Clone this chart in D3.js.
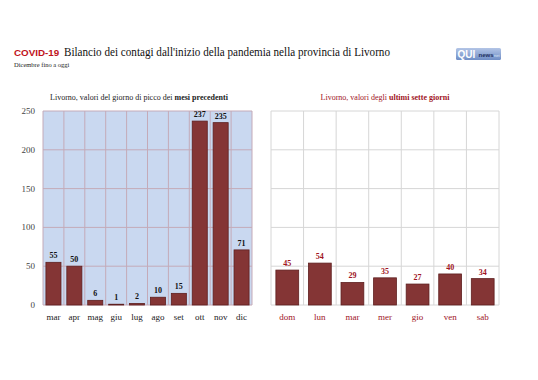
<!DOCTYPE html>
<html>
<head>
<meta charset="utf-8">
<script src="https://cdn.jsdelivr.net/npm/d3@7"></script>
<style>
  body { margin: 0; background: #fff; }
  svg { display: block; }
</style>
</head>
<body>
<div id="chart"></div>
<script>
// data
const mesi = ["mar", "apr", "mag", "giu", "lug", "ago", "set", "ott", "nov", "dic"];
const piccoMesi = [55, 50, 6, 1, 2, 10, 15, 237, 235, 71];
const giorni = ["dom", "lun", "mar", "mer", "gio", "ven", "sab"];
const ultimiGiorni = [45, 54, 29, 35, 27, 40, 34];
const yTicks = [0, 50, 100, 150, 200, 250];

const width = 538, height = 380;
const serif = "'Liberation Serif', 'Times New Roman', 'DejaVu Serif', serif";
const sans = "'Liberation Sans', Arial, sans-serif";
const barFill = "#843535", barStroke = "#5e1f1f", darkRed = "#a0141e";

const svg = d3.select("#chart").append("svg")
  .attr("width", width)
  .attr("height", height);

// titles
svg.append("text")
  .attr("x", 14).attr("y", 56)
  .style("font-family", sans)
  .style("font-weight", "bold")
  .style("font-size", "9.8px")
  .attr("fill", "#c0141c")
  .text("COVID-19");

svg.append("text")
  .attr("x", 64).attr("y", 56)
  .style("font-family", serif)
  .style("font-size", "11.5px")
  .attr("fill", "#111")
  .attr("textLength", 326)
  .attr("lengthAdjust", "spacingAndGlyphs")
  .text("Bilancio dei contagi dall'inizio della pandemia nella provincia di Livorno");

svg.append("text")
  .attr("x", 14).attr("y", 67)
  .style("font-family", serif)
  .style("font-size", "6.5px")
  .attr("fill", "#222")
  .text("Dicembre fino a oggi");

// logo
const logo = svg.append("g").attr("transform", "translate(456,48)");
const grad = svg.append("defs").append("linearGradient")
  .attr("id", "lg").attr("x1", 0).attr("y1", 0).attr("x2", 0).attr("y2", 1);
grad.append("stop").attr("offset", 0).attr("stop-color", "#b3c5e6");
grad.append("stop").attr("offset", 1).attr("stop-color", "#6f8ec6");
logo.append("rect").attr("width", 45).attr("height", 12).attr("rx", 1.5).attr("fill", "url(#lg)");
logo.append("text").attr("x", 1.5).attr("y", 10)
  .style("font-family", sans)
  .style("font-weight", "bold").style("font-size", "10px").attr("fill", "#fff")
  .text("QUI");
logo.append("text").attr("x", 22.5).attr("y", 9)
  .style("font-family", sans)
  .style("font-weight", "bold").style("font-size", "6px").attr("fill", "#1d2f5e")
  .text("news");
logo.append("text").attr("x", 38).attr("y", 9)
  .style("font-family", sans)
  .style("font-size", "4px").attr("fill", "#dde6f5")
  .text("net");

// shared y scale
const plotTop = 111, plotBottom = 305;
const y = d3.scaleLinear().domain([0, 250]).range([plotBottom, plotTop]);

function panel(opts) {
  const x = d3.scaleBand().domain(opts.cats).range([opts.x0, opts.x1])
    .paddingInner(opts.pad).paddingOuter(opts.pad / 2);
  const g = svg.append("g");

  // background
  g.append("rect")
    .attr("x", opts.x0).attr("y", plotTop)
    .attr("width", opts.x1 - opts.x0).attr("height", plotBottom - plotTop)
    .attr("fill", opts.bg);

  // horizontal grid
  g.selectAll(".hg").data(yTicks).enter().append("line")
    .attr("x1", opts.x0).attr("x2", opts.x1)
    .attr("y1", d => y(d)).attr("y2", d => y(d))
    .attr("stroke", opts.grid).attr("stroke-width", 1);

  // vertical grid at band boundaries
  const step = x.step();
  const bounds = d3.range(opts.cats.length + 1).map(i => opts.x0 + i * step);
  g.selectAll(".vg").data(bounds).enter().append("line")
    .attr("x1", d => d).attr("x2", d => d)
    .attr("y1", plotTop).attr("y2", plotBottom)
    .attr("stroke", opts.grid).attr("stroke-width", 1);

  // bars
  g.selectAll(".bar").data(opts.vals).enter().append("rect")
    .attr("x", (d, i) => x(opts.cats[i]))
    .attr("y", d => y(d))
    .attr("width", x.bandwidth())
    .attr("height", d => plotBottom - y(d))
    .attr("fill", barFill)
    .attr("stroke", barStroke)
    .attr("stroke-width", 0.8);

  // value labels
  g.selectAll(".val").data(opts.vals).enter().append("text")
    .attr("x", (d, i) => x(opts.cats[i]) + x.bandwidth() / 2)
    .attr("y", d => y(d) - 4)
    .attr("text-anchor", "middle")
    .style("font-family", serif)
    .style("font-weight", "bold")
    .style("font-size", "8px")
    .attr("fill", opts.valColor)
    .text(d => d);

  // category labels
  g.selectAll(".cat").data(opts.cats).enter().append("text")
    .attr("x", d => x(d) + x.bandwidth() / 2)
    .attr("y", 320)
    .attr("text-anchor", "middle")
    .style("font-family", serif)
    .style("font-size", "9px")
    .attr("fill", opts.catColor)
    .text(d => d);

  // panel title
  const t = svg.append("text")
    .attr("x", (opts.x0 + opts.x1) / 2 + opts.titleShift)
    .attr("y", 100)
    .attr("text-anchor", "middle")
    .style("font-family", serif)
    .style("font-size", "8px")
    .attr("fill", opts.titleColor);
  t.append("tspan").text(opts.title[0]);
  t.append("tspan").style("font-weight", "bold").text(opts.title[1]);
  return x;
}

panel({
  cats: mesi, vals: piccoMesi, x0: 43, x1: 252, pad: 0.28,
  bg: "#c9d8f0", grid: "#c4aab8",
  valColor: "#111", catColor: "#222", titleColor: "#222",
  title: ["Livorno, valori del giorno di picco dei ", "mesi precedenti"], titleShift: -8.5
});

panel({
  cats: giorni, vals: ultimiGiorni, x0: 271, x1: 499, pad: 0.3,
  bg: "#fff", grid: "#d6d6d6",
  valColor: darkRed, catColor: darkRed, titleColor: darkRed,
  title: ["Livorno, valori degli ", "ultimi sette giorni"], titleShift: 0
});

// left y axis labels
svg.selectAll(".ytick").data(yTicks).enter().append("text")
  .attr("x", 35)
  .attr("y", d => y(d) + 3)
  .attr("text-anchor", "end")
  .style("font-family", serif)
  .style("font-size", "9px")
  .attr("fill", "#444")
  .text(d => d);
</script>
</body>
</html>
